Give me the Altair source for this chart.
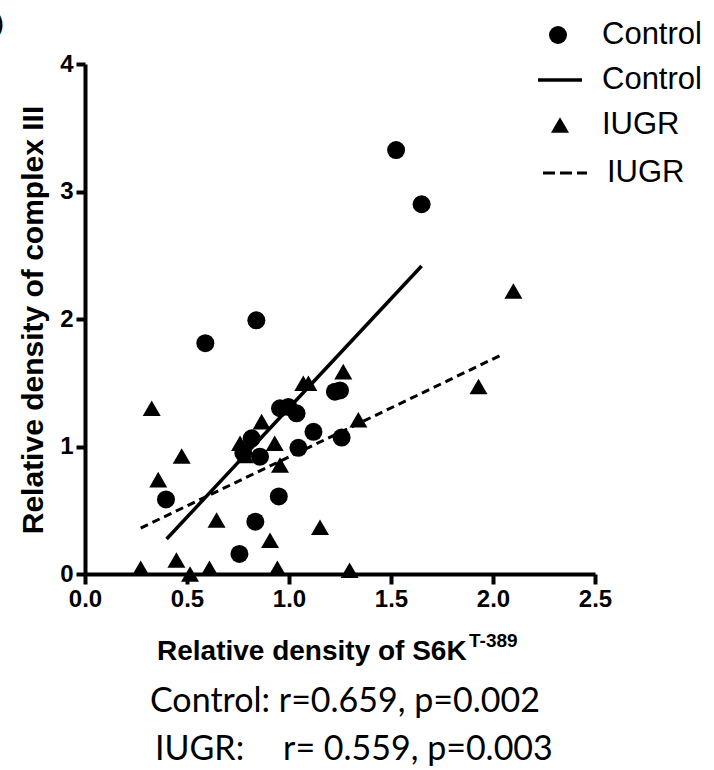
import altair as alt
import pandas as pd

# ---- data ----
control_x = [0.84, 0.59, 0.956, 0.997, 1.037, 1.225, 1.25, 1.12, 1.046, 1.258,
             0.817, 0.858, 0.776, 0.397, 0.95, 0.835, 0.757, 1.525, 1.65]
control_y = [1.99, 1.81, 1.30, 1.31, 1.26, 1.43, 1.44, 1.115, 0.99, 1.07,
             1.064, 0.92, 0.95, 0.585, 0.608, 0.41, 0.157, 3.325, 2.90]

iugr_x = [0.327, 1.266, 1.070, 1.095, 0.866, 1.34, 0.93, 0.76, 0.784, 0.474,
          0.956, 0.359, 0.645, 1.152, 0.907, 0.448, 0.273, 0.515, 0.61, 0.943,
          1.297, 2.10, 1.929]
iugr_y = [1.30, 1.587, 1.496, 1.496, 1.195, 1.21, 1.025, 1.025, 0.93, 0.925,
          0.855, 0.74, 0.424, 0.367, 0.265, 0.11, 0.045, 0.0, 0.045, 0.045,
          0.03, 2.22, 1.47]

control_fit_x = [0.40, 1.65]
control_fit_y = [0.275, 2.416]
iugr_fit_x = [0.273, 2.05]
iugr_fit_y = [0.36, 1.725]

x_ticks = [0.0, 0.5, 1.0, 1.5, 2.0, 2.5]
y_ticks = [0, 1, 2, 3, 4]

legend_labels = ["Control", "Control", "IUGR", "IUGR"]
x_title = "Relative density of S6K"
x_title_sup = "T-389"
y_title = "Relative density of complex III"
stats_control = "Control: r=0.659, p=0.002"
stats_iugr_label = "IUGR:"
stats_iugr = "r= 0.559, p=0.003"
panel_label = "D)"

# ---- layout ----
W, H = 510, 510
PAD = {"left": 85, "top": 64, "right": 119, "bottom": 196}
AX_FONT = "Liberation Sans"
STAT_FONT = "Lato"

xs = alt.Scale(domain=[0, 2.5], nice=False, zero=False)
ys = alt.Scale(domain=[0, 4], nice=False, zero=False)

common_axis = dict(title=None, grid=False, domainWidth=4, domainColor="black",
                   tickWidth=4, tickColor="black", labelFont=AX_FONT,
                   labelFontWeight="bold", labelFontSize=24, labelColor="black",
                   labelFlush=False, labelOverlap=False)
x_axis = alt.Axis(values=x_ticks, format=".1f", tickSize=10, labelPadding=3, **common_axis)
y_axis = alt.Axis(values=y_ticks, format="d", tickSize=9, labelPadding=3, **common_axis)

ctrl = pd.DataFrame({"x": control_x, "y": control_y})
iugr = pd.DataFrame({"x": iugr_x, "y": iugr_y})
cfit = pd.DataFrame({"x": control_fit_x, "y": control_fit_y})
ifit = pd.DataFrame({"x": iugr_fit_x, "y": iugr_fit_y})
one = pd.DataFrame({"a": [0]})


def enc(ch):
    return ch.encode(
        x=alt.X("x:Q", scale=xs, axis=x_axis),
        y=alt.Y("y:Q", scale=ys, axis=y_axis),
    )


pts_c = enc(alt.Chart(ctrl).mark_point(shape="circle", filled=True, size=324,
                                       color="black", opacity=1))
pts_i = enc(alt.Chart(iugr).mark_point(shape="triangle-up", filled=True, size=324,
                                       color="black", opacity=1))
line_c = enc(alt.Chart(cfit).mark_line(color="black", strokeWidth=3.5))
line_i = enc(alt.Chart(ifit).mark_line(color="black", strokeWidth=3, strokeDash=[8, 5]))


def txt(text, x, y, size, weight="normal", font=AX_FONT, align="left",
        baseline="alphabetic", angle=0):
    return alt.Chart(one).mark_text(
        text=text, fontSize=size, font=font, fontWeight=weight, align=align,
        baseline=baseline, angle=angle, color="black"
    ).encode(x=alt.value(x), y=alt.value(y))


def sym(shape, x, y):
    return alt.Chart(one).mark_point(shape=shape, filled=True, size=324,
                                     color="black", opacity=1).encode(
        x=alt.value(x), y=alt.value(y))


def rule(x1, x2, y, dash=None):
    kw = dict(color="black", strokeWidth=3.5)
    if dash:
        kw["strokeDash"] = dash
        kw["strokeWidth"] = 3
    return alt.Chart(one).mark_rule(**kw).encode(
        x=alt.value(x1), x2=alt.value(x2), y=alt.value(y))


L = -PAD["left"]
T = -PAD["top"]

legend = [
    sym("circle", 558 + L, 35 + T),
    txt(legend_labels[0], 602 + L, 35 + T, 31, baseline="middle"),
    rule(538 + L, 582 + L, 80 + T),
    txt(legend_labels[1], 602 + L, 80 + T, 31, baseline="middle"),
    sym("triangle-up", 560 + L, 125 + T),
    txt(legend_labels[2], 602 + L, 125 + T, 31, baseline="middle"),
    rule(543 + L, 587 + L, 173 + T, dash=[12, 5]),
    txt(legend_labels[3], 607 + L, 173 + T, 31, baseline="middle"),
]

titles = [
    txt(x_title, 157 + L, 660 + T, 28, weight="bold"),
    txt(x_title_sup, 469 + L, 647 + T, 19, weight="bold"),
    txt(y_title, 34 + L, 320 + T, 30, weight="bold", align="center",
        baseline="middle", angle=270),
    txt(stats_control, 150 + L, 712 + T, 34, font=STAT_FONT),
    txt(stats_iugr_label, 155 + L, 760 + T, 34, font=STAT_FONT),
    txt(stats_iugr, 283 + L, 760 + T, 34, font=STAT_FONT),
    txt(panel_label, 4 + L, 32 + T, 28, align="right"),
]

chart = alt.layer(line_c, line_i, pts_c, pts_i, *legend, *titles).properties(
    width=W, height=H,
    autosize=alt.AutoSizeParams(type="none"),
    padding=PAD,
    background="white",
).configure_view(stroke=None)

chart.save("out.html", embed_options={"renderer": "svg", "actions": False})
